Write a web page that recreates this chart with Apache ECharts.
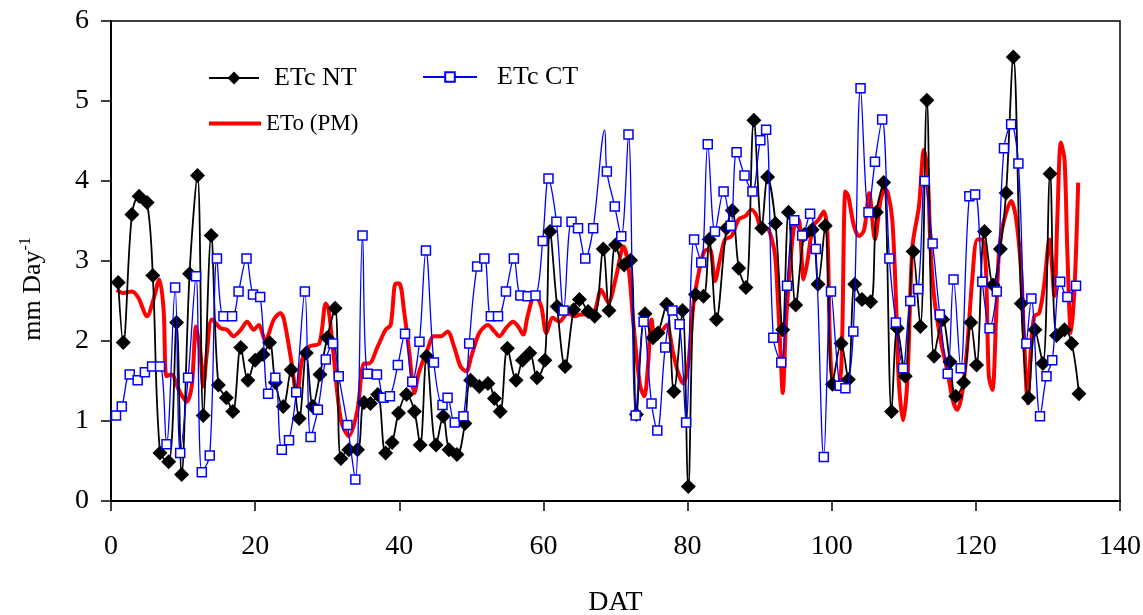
<!DOCTYPE html>
<html>
<head>
<meta charset="utf-8">
<title>ETc NT / ETc CT / ETo (PM)</title>
<script src="https://cdn.jsdelivr.net/npm/echarts@6/dist/echarts.min.js"></script>
<style>
  html, body { margin: 0; padding: 0; background: #fff; }
  #chart { width: 1143px; height: 615px; }
</style>
</head>
<body>
<div id="chart"></div>
<script>
// x axis ticks / y axis ticks
var xTicks = [0, 20, 40, 60, 80, 100, 120, 140];
var yTicks = [0, 1, 2, 3, 4, 5, 6];

// ETc NT (black diamonds)
var ntDays = [
  1.0, 1.7, 2.9, 3.9, 5.0, 5.8, 6.8, 8.0, 9.1, 9.8,
  10.9, 12.0, 12.8, 13.9, 14.9, 16.0, 16.9, 18.0, 19.0, 20.0,
  21.1, 22.0, 22.8, 23.9, 25.0, 26.1, 27.1, 28.0, 29.0, 30.0,
  31.1, 31.9, 33.0, 34.2, 35.1, 36.0, 37.0, 38.1, 39.0, 39.9,
  41.0, 42.1, 42.9, 43.8, 45.1, 46.1, 46.9, 48.0, 49.1, 49.9,
  51.1, 52.3, 53.2, 54.0, 55.0, 56.2, 57.1, 58.1, 59.1, 60.2,
  60.9, 61.9, 63.0, 64.2, 65.0, 66.2, 67.1, 68.3, 69.1, 70.0,
  71.2, 72.1, 72.9, 74.1, 75.2, 75.9, 77.1, 78.1, 79.3, 80.1,
  81.1, 82.2, 83.0, 84.0, 85.4, 86.2, 87.1, 88.1, 89.2, 90.3,
  91.1, 92.2, 93.2, 94.0, 95.0, 96.2, 97.3, 98.1, 99.1, 100.1,
  101.3, 102.3, 103.2, 104.2, 105.4, 106.2, 107.2, 108.3, 109.1, 110.2,
  111.3, 112.3, 113.2, 114.2, 115.4, 116.4, 117.2, 118.3, 119.3, 120.1,
  121.2, 122.4, 123.4, 124.2, 125.2, 126.3, 127.3, 128.2, 129.3, 130.3,
  131.2, 132.3, 133.3, 134.3
];
var ntValues = [
  2.73, 1.98, 3.58, 3.81, 3.73, 2.82, 0.60, 0.49, 2.23, 0.33,
  2.84, 4.07, 1.07, 3.32, 1.45, 1.29, 1.12, 1.92, 1.51, 1.76,
  1.83, 1.98, 1.48, 1.18, 1.64, 1.03, 1.85, 1.18, 1.58, 2.04,
  2.41, 0.53, 0.64, 0.64, 1.23, 1.22, 1.33, 0.60, 0.73, 1.10,
  1.33, 1.12, 0.70, 1.81, 0.70, 1.06, 0.64, 0.58, 0.97, 1.51,
  1.43, 1.47, 1.28, 1.12, 1.91, 1.51, 1.76, 1.85, 1.54, 1.76,
  3.37, 2.43, 1.68, 2.39, 2.52, 2.37, 2.31, 3.15, 2.38, 3.20,
  2.95, 3.01, 1.08, 2.34, 2.04, 2.10, 2.46, 1.37, 2.38, 0.18,
  2.58, 2.56, 3.27, 2.27, 3.41, 3.63, 2.91, 2.67, 4.76, 3.41,
  4.05, 3.47, 2.14, 3.61, 2.45, 3.33, 3.39, 2.71, 3.44, 1.46,
  1.97, 1.52, 2.71, 2.52, 2.49, 3.61, 3.98, 1.12, 2.16, 1.56,
  3.12, 2.18, 5.01, 1.81, 2.27, 1.74, 1.31, 1.48, 2.23, 1.70,
  3.37, 2.70, 3.15, 3.85, 5.55, 2.47, 1.29, 2.14, 1.72, 4.09,
  2.07, 2.14, 1.97, 1.34
];

// ETc CT (blue open squares)
var ctDays = [
  0.7, 1.5, 2.6, 3.7, 4.7, 5.7, 6.8, 7.7, 8.9, 9.6,
  10.7, 11.8, 12.6, 13.7, 14.7, 15.6, 16.8, 17.7, 18.8, 19.7,
  20.7, 21.8, 22.8, 23.7, 24.7, 25.7, 26.9, 27.7, 28.7, 29.8,
  30.8, 31.6, 32.8, 33.9, 34.9, 35.6, 36.9, 37.8, 38.7, 39.8,
  40.8, 41.8, 42.8, 43.7, 44.8, 46.0, 46.7, 47.7, 48.9, 49.7,
  50.8, 51.8, 52.7, 53.7, 54.8, 55.9, 56.8, 57.8, 58.9, 59.9,
  60.7, 61.8, 62.8, 63.9, 64.8, 65.8, 66.9, 68.5, 68.8, 69.9,
  70.8, 71.8, 72.8, 73.9, 75.0, 75.8, 76.9, 77.9, 78.9, 79.8,
  80.9, 81.9, 82.8, 83.8, 85.0, 86.0, 86.8, 87.9, 89.0, 90.1,
  90.9, 91.9, 93.0, 93.8, 94.8, 95.9, 97.0, 97.8, 98.9, 99.9,
  101.1, 101.9, 103.0, 104.0, 105.1, 106.0, 107.0, 108.0, 108.9, 109.9,
  110.9, 112.0, 112.9, 114.0, 115.0, 116.1, 116.9, 117.9, 119.1, 119.9,
  120.9, 121.9, 122.9, 123.9, 124.9, 125.9, 127.0, 127.7, 128.9, 129.8,
  130.6, 131.7, 132.7, 133.9
];
var ctValues = [
  1.07, 1.18, 1.58, 1.51, 1.61, 1.68, 1.68, 0.71, 2.67, 0.60,
  1.54, 2.81, 0.36, 0.57, 3.03, 2.31, 2.31, 2.62, 3.03, 2.58,
  2.55, 1.34, 1.54, 0.64, 0.76, 1.36, 2.62, 0.80, 1.14, 1.77,
  1.97, 1.56, 0.95, 0.27, 3.32, 1.59, 1.58, 1.29, 1.31, 1.70,
  2.09, 1.49, 1.99, 3.13, 1.73, 1.20, 1.29, 0.98, 1.06, 1.97,
  2.93, 3.03, 2.31, 2.31, 2.62, 3.03, 2.57, 2.56, 2.57, 3.25,
  4.03, 3.49, 2.38, 3.49, 3.41, 3.03, 3.41, 4.64, 4.12, 3.68,
  3.31, 4.58, 1.07, 2.24, 1.22, 0.88, 1.92, 2.38, 2.21, 0.98,
  3.27, 2.98, 4.46, 3.37, 3.87, 3.44, 4.36, 4.07, 3.87, 4.51,
  4.64, 2.04, 1.73, 2.69, 3.51, 3.32, 3.59, 3.15, 0.55, 2.62,
  1.44, 1.41, 2.12, 5.16, 3.61, 4.24, 4.77, 3.03, 2.23, 1.66,
  2.50, 2.65, 4.00, 3.22, 2.33, 1.59, 2.77, 1.66, 3.81, 3.83,
  2.74, 2.16, 2.62, 4.41, 4.71, 4.22, 1.97, 2.53, 1.06, 1.56,
  1.76, 2.74, 2.55, 2.69
];
// the CT peak near day 68 is drawn without a marker
var ctNoMarker = [68.5];

// ETo (PM) (red line)
var etoDays = [
  0.8, 1.7, 2.9, 3.8, 5.0, 5.9, 6.7, 7.3, 7.7, 8.4,
  9.4, 10.5, 11.2, 11.8, 12.4, 12.8, 13.3, 14.0, 15.2, 16.1,
  17.0, 18.0, 18.9, 19.8, 20.5, 21.4, 22.6, 23.5, 24.0, 25.0,
  25.8, 26.5, 27.5, 28.9, 29.8, 30.2, 30.9, 31.9, 33.0, 34.2,
  35.1, 35.8, 37.0, 38.1, 38.8, 39.5, 40.0, 40.7, 41.4, 42.1,
  42.7, 43.9, 44.8, 45.8, 46.7, 47.6, 48.5, 49.3, 50.0, 51.1,
  52.3, 53.2, 53.9, 54.8, 55.8, 56.5, 57.2, 57.8, 58.8, 59.7,
  60.4, 61.3, 62.2, 63.4, 64.3, 65.2, 66.2, 67.1, 68.0, 69.0,
  70.1, 71.1, 71.8, 72.5, 73.4, 74.0, 74.5, 75.0, 75.5, 76.4,
  77.1, 78.0, 78.7, 79.4, 80.1, 80.8, 81.5, 82.3, 83.1, 83.8,
  84.5, 85.2, 86.1, 87.1, 88.0, 88.9, 89.6, 90.3, 91.0, 91.7,
  92.2, 92.9, 93.2, 93.7, 94.7, 95.4, 96.1, 96.6, 97.4, 98.2,
  98.9, 99.4, 99.8, 100.3, 101.0, 101.4, 101.9, 102.3, 103.1, 103.8,
  104.5, 105.2, 106.0, 106.8, 107.4, 107.8, 108.4, 108.9, 109.3, 109.9,
  110.5, 111.2, 112.1, 112.8, 113.3, 113.7, 114.2, 115.1, 116.1, 116.8,
  117.4, 118.1, 118.8, 119.5, 120.2, 120.9, 121.4, 121.8, 122.3, 122.8,
  123.2, 123.7, 124.9, 125.6, 126.3, 126.7, 127.2, 127.6, 128.1, 128.8,
  129.5, 130.2, 130.9, 131.3, 131.8, 132.3, 132.7, 133.2, 133.7, 134.2
];
var etoValues = [
  2.64, 2.60, 2.62, 2.54, 2.31, 2.52, 2.77, 2.39, 1.56, 1.58,
  1.39, 1.24, 1.43, 2.18, 1.85, 1.43, 1.85, 2.27, 2.16, 2.14,
  2.06, 2.14, 2.24, 2.14, 2.20, 2.01, 2.27, 2.35, 2.27, 1.76,
  1.31, 1.76, 1.93, 1.97, 2.47, 2.39, 1.81, 1.01, 0.81, 1.14,
  1.72, 1.72, 1.93, 2.14, 2.20, 2.72, 2.72, 2.35, 1.85, 1.35,
  1.60, 1.89, 2.06, 2.06, 2.12, 1.93, 1.68, 1.62, 1.81, 2.10,
  2.20, 2.12, 2.06, 2.16, 2.24, 2.18, 2.08, 2.31, 2.58, 2.43,
  2.10, 2.29, 2.24, 2.35, 2.31, 2.33, 2.33, 2.37, 2.64, 2.48,
  2.81, 3.18, 2.93, 2.20, 1.45, 1.31, 1.68, 2.27, 2.05, 2.12,
  2.20, 1.85, 1.60, 1.47, 1.72, 2.45, 2.83, 3.12, 3.15, 2.75,
  3.02, 3.27, 3.31, 3.52, 3.56, 3.64, 3.56, 3.39, 3.41, 3.27,
  3.02, 1.85, 1.35, 2.30, 3.39, 3.52, 2.77, 2.98, 3.43, 3.52,
  3.62, 3.35, 1.85, 1.47, 1.47, 1.85, 3.87, 3.81, 3.43, 3.31,
  3.39, 3.85, 3.27, 3.77, 3.90, 3.85, 3.52, 2.56, 1.51, 1.01,
  1.51, 3.18, 3.68, 4.39, 4.10, 3.18, 2.56, 2.02, 1.60, 1.26,
  1.14, 1.35, 1.93, 2.77, 3.27, 3.27, 2.89, 1.56, 1.39, 2.27,
  3.10, 3.43, 3.75, 3.52, 2.85, 2.01, 1.22, 1.85, 2.31, 2.35,
  2.72, 3.27, 2.56, 3.52, 4.48, 4.27, 3.10, 2.10, 2.68, 3.98
];

var FONT = "'Liberation Serif', 'DejaVu Serif', serif";

// 组合成 [x, y]
function toPairs(days, values, noMarker) {
  var out = [];
  for (var i = 0; i < days.length; i++) {
    if (noMarker && noMarker.indexOf(days[i]) >= 0) {
      out.push({ value: [days[i], values[i]], symbol: 'none' });
    } else {
      out.push([days[i], values[i]]);
    }
  }
  return out;
}

var chart = echarts.init(document.getElementById('chart'), null, { renderer: 'canvas' });

var option = {
  animation: false,
  backgroundColor: '#fff',
  grid: {
    left: 111, right: 23, top: 21, bottom: 114,
    containLabel: false, outerBoundsMode: 'none',
    show: true, borderColor: '#000', borderWidth: 1.5, backgroundColor: 'transparent'
  },
  legend: [
    {
      data: ['ETc NT'], left: 203, top: 60, itemWidth: 50, itemHeight: 16,
      selectedMode: false,
      textStyle: { fontFamily: FONT, fontSize: 26, color: '#000', padding: [0, 0, 0, 10] }
    },
    {
      data: ['ETc CT'], left: 417, top: 59, itemWidth: 54, itemHeight: 12,
      selectedMode: false,
      textStyle: { fontFamily: FONT, fontSize: 26, color: '#000', padding: [0, 0, 0, 15] }
    },
    {
      data: [{ name: 'ETo (PM)', icon: 'rect' }], left: 204, top: 107, itemWidth: 52, itemHeight: 4,
      selectedMode: false,
      textStyle: { fontFamily: FONT, fontSize: 23, color: '#000', padding: [0, 0, 0, 0] }
    }
  ],
  xAxis: {
    type: 'value', min: xTicks[0], max: xTicks[xTicks.length - 1], interval: 20,
    name: 'DAT', nameLocation: 'middle', nameGap: 88,
    nameTextStyle: { fontFamily: FONT, fontSize: 28, color: '#000' },
    axisLine: { onZero: false, lineStyle: { color: '#000', width: 1.8 } },
    axisTick: { inside: false, length: 10, lineStyle: { color: '#000', width: 1.5 } },
    axisLabel: { fontFamily: FONT, fontSize: 28, color: '#000', margin: 32 },
    splitLine: { show: false }
  },
  yAxis: {
    type: 'value', min: yTicks[0], max: yTicks[yTicks.length - 1], interval: 1,
    name: '{a|mm Day}{b|-1}', nameLocation: 'middle', nameGap: 63, nameRotate: 90,
    nameTextStyle: {
      fontFamily: FONT, color: '#000', padding: [0, 56, 0, 0],
      rich: {
        a: { fontFamily: FONT, fontSize: 26, lineHeight: 30, color: '#000' },
        b: { fontFamily: FONT, fontSize: 16, lineHeight: 16, verticalAlign: 'top', color: '#000' }
      }
    },
    axisLine: { onZero: false, lineStyle: { color: '#000', width: 1.8 } },
    axisTick: { inside: false, length: 10, lineStyle: { color: '#000', width: 1.5 } },
    axisLabel: { fontFamily: FONT, fontSize: 28, color: '#000', margin: 22 },
    splitLine: { show: false }
  },
  series: [
    {
      name: 'ETo (PM)', type: 'line', z: 1,
      data: toPairs(etoDays, etoValues),
      showSymbol: false, symbol: 'none', smooth: 0.3,
      lineStyle: { color: '#ff0000', width: 4 },
      itemStyle: { color: '#ff0000' }
    },
    {
      name: 'ETc NT', type: 'line', z: 2,
      data: toPairs(ntDays, ntValues),
      symbol: 'diamond', symbolSize: 15, smooth: 0.35,
      lineStyle: { color: '#000', width: 1.8 },
      itemStyle: { color: '#000' }
    },
    {
      name: 'ETc CT', type: 'line', z: 3,
      data: toPairs(ctDays, ctValues, ctNoMarker),
      symbol: 'rect', symbolSize: 9, smooth: 0.35,
      lineStyle: { color: '#0000ff', width: 1.3 },
      itemStyle: { color: '#fff', borderColor: '#0000ff', borderWidth: 1.5 }
    }
  ]
};

chart.setOption(option);
</script>
</body>
</html>
